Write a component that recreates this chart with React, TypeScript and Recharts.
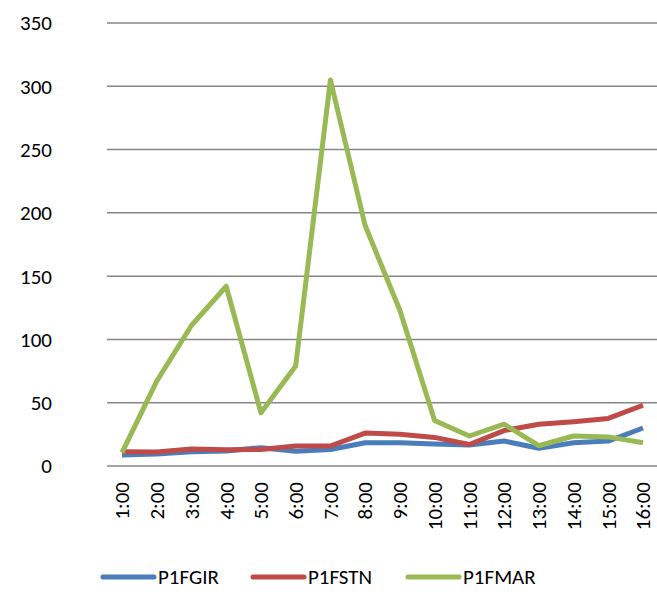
import React from "react";
import { LineChart, Line, XAxis, YAxis, CartesianGrid } from "recharts";

const hours = ["1:00","2:00","3:00","4:00","5:00","6:00","7:00","8:00","9:00","10:00","11:00","12:00","13:00","14:00","15:00","16:00"];
const p1fgir = [8.7, 9.5, 11.3, 11.8, 14.5, 11.6, 13, 18.4, 18.4, 17.4, 16.6, 19.7, 14, 18.4, 19.7, 30];
const p1fstn = [11.3, 11, 13.5, 12.9, 13, 15.8, 15.8, 26, 25, 22.6, 17, 28, 33, 35, 37.6, 48];
const p1fmar = [10.5, 67, 111, 142, 42, 79, 305, 190, 123, 36, 23.7, 33, 16, 23.7, 23, 18.4];
const yTicks = [0, 50, 100, 150, 200, 250, 300, 350];

const series = [
  { key: "P1FGIR", color: "#4A7EBB" },
  { key: "P1FSTN", color: "#BE4B48" },
  { key: "P1FMAR", color: "#98B954" },
];

const data = hours.map((h, i) => ({ hour: h, P1FGIR: p1fgir[i], P1FSTN: p1fstn[i], P1FMAR: p1fmar[i] }));

const FONT = "Carlito, Calibri, Lato, sans-serif";

const XTick = (props: any) => {
  const { x, y, payload } = props;
  return (
    <g transform={`translate(${x},${y})`}>
      <text transform="rotate(-90)" textAnchor="end" dy="0.35em" fill="#000" fontSize={21} fontFamily={FONT}>
        {payload.value}
      </text>
    </g>
  );
};

const LegendRow = () => {
  const xs = [103, 253, 408];
  return (
    <svg width={657} height={30} style={{ position: "absolute", left: 0, top: 562 }}>
      {series.map((s, i) => (
        <g key={s.key}>
          <line x1={xs[i]} x2={xs[i] + 51} y1={15} y2={15} stroke={s.color} strokeWidth={5} strokeLinecap="round" />
          <text x={xs[i] + 55} y={15} dy="0.35em" fontSize={21} fontFamily={FONT} fill="#000">{s.key}</text>
        </g>
      ))}
    </svg>
  );
};

export default function App() {
  return (
    <div style={{ position: "absolute", left: 0, top: 0, width: 657, height: 594, background: "#fff" }}>
      <LineChart width={657} height={594} data={data} margin={{ top: 23, right: 0, left: 0, bottom: 34 }}>
        <CartesianGrid vertical={false} stroke="#868686" strokeWidth={1.5} />
        <XAxis dataKey="hour" axisLine={false} tickLine={false} tickMargin={10} height={94} interval={0}
          padding={{ left: 15, right: 14 }} tick={<XTick />} />
        <YAxis domain={[0, 350]} ticks={yTicks} width={107} axisLine={false} tickLine={false} tickMargin={49}
          tick={{ fill: "#000", fontSize: 21, fontFamily: FONT }} />
        {series.map((s) => (
          <Line key={s.key} dataKey={s.key} stroke={s.color} strokeWidth={5} dot={false} isAnimationActive={false} strokeLinejoin="round" />
        ))}
      </LineChart>
      <LegendRow />
    </div>
  );
}
